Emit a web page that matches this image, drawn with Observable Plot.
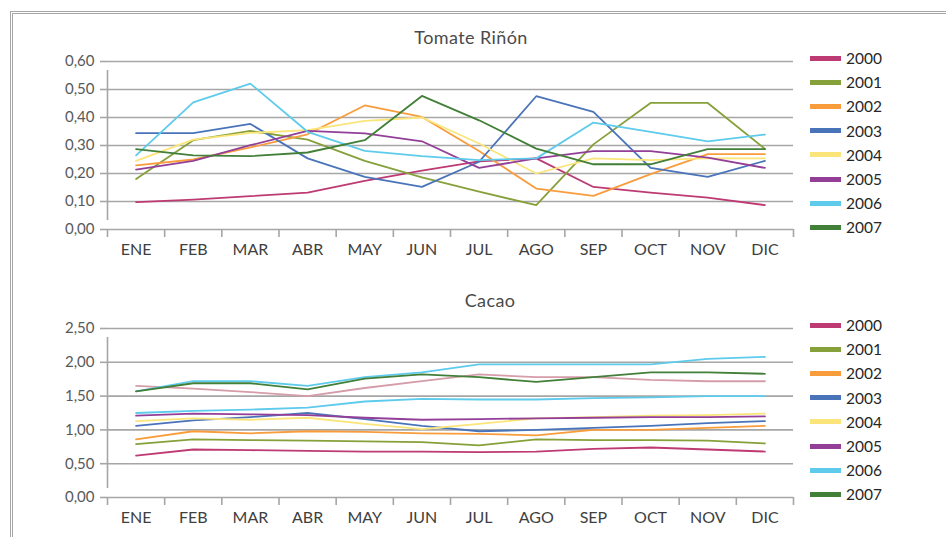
<!DOCTYPE html>
<html>
<head>
<meta charset="utf-8">
<script src="https://cdn.jsdelivr.net/npm/d3@7"></script>
<script src="https://cdn.jsdelivr.net/npm/@observablehq/plot@0.6"></script>
<style>
  html, body { margin: 0; padding: 0; background: #fff; }
  #root { position: relative; width: 946px; height: 537px; overflow: hidden; font-family: Lato, "DejaVu Sans", sans-serif; }
  .frame { position: absolute; left: 10px; top: 11px; width: 1000px; height: 600px; border: 3px double #a6a6a6; box-sizing: border-box; }
  .title { position: absolute; transform: translate(-50%, -50%); font-size: 18px; letter-spacing: 0.4px; font-weight: normal; color: #4a4a4a; white-space: nowrap; }
  .panel { position: absolute; left: 0; }
  .legend { position: absolute; left: 810px; }
  .legend .row { position: absolute; left: 0; height: 20px; display: flex; align-items: center; white-space: nowrap; }
  .legend .sw { width: 31px; height: 5px; margin-right: 5px; }
  .legend .lb { font-size: 15.5px; color: #262626; }
</style>
</head>
<body>
<div id="root"><div class="frame"></div></div>
<script>
const months = ["ENE","FEB","MAR","ABR","MAY","JUN","JUL","AGO","SEP","OCT","NOV","DIC"];
const years = ["2000","2001","2002","2003","2004","2005","2006","2007"];
const yearColors = ["#be3a72","#86a03a","#f99c3c","#4a74ba","#fbe57a","#933f98","#5ecbec","#427f38"];
const extraNames = ["2008","2009"];
const extraColors = ["#d59ca9","#5ecbec"];

// Tomate Riñón
const tomate2000 = [0.098,0.107,0.119,0.132,0.174,0.210,0.243,0.254,0.152,0.132,0.114,0.087];
const tomate2001 = [0.180,0.319,0.352,0.321,0.245,0.186,0.135,0.087,0.304,0.452,0.452,0.288];
const tomate2002 = [0.229,0.250,0.293,0.340,0.443,0.402,0.280,0.146,0.120,0.198,0.269,0.269];
const tomate2003 = [0.344,0.344,0.377,0.254,0.188,0.152,0.242,0.476,0.420,0.220,0.188,0.245];
const tomate2004 = [0.245,0.321,0.345,0.355,0.388,0.400,0.307,0.200,0.254,0.248,0.254,0.254];
const tomate2005 = [0.214,0.245,0.301,0.352,0.343,0.315,0.220,0.254,0.280,0.280,0.257,0.220];
const tomate2006 = [0.265,0.454,0.521,0.349,0.281,0.262,0.248,0.254,0.382,0.349,0.315,0.339];
const tomate2007 = [0.287,0.265,0.262,0.275,0.319,0.477,0.390,0.289,0.233,0.233,0.287,0.287];
const tomateTicks = [0,0.1,0.2,0.3,0.4,0.5,0.6];

// Cacao
const cacao2000 = [0.62,0.71,0.70,0.69,0.68,0.68,0.67,0.68,0.72,0.74,0.71,0.68];
const cacao2001 = [0.79,0.86,0.85,0.84,0.83,0.82,0.77,0.86,0.85,0.85,0.84,0.80];
const cacao2002 = [0.86,0.98,0.95,0.98,0.97,0.95,0.94,0.92,1.00,1.00,1.03,1.06];
const cacao2003 = [1.06,1.14,1.19,1.25,1.16,1.06,0.98,1.00,1.03,1.06,1.10,1.13];
const cacao2004 = [1.13,1.17,1.15,1.18,1.09,1.01,1.09,1.17,1.19,1.21,1.22,1.24];
const cacao2005 = [1.21,1.24,1.23,1.22,1.18,1.15,1.16,1.17,1.18,1.19,1.19,1.20];
const cacao2006 = [1.25,1.28,1.30,1.33,1.42,1.46,1.45,1.45,1.47,1.48,1.50,1.50];
const cacao2007 = [1.57,1.69,1.69,1.60,1.76,1.82,1.78,1.71,1.78,1.85,1.85,1.83];
const cacao2008 = [1.65,1.61,1.56,1.50,1.62,1.72,1.82,1.78,1.78,1.74,1.72,1.72];
const cacao2009 = [1.57,1.72,1.72,1.65,1.78,1.85,1.97,1.97,1.97,1.97,2.05,2.08];
const cacaoTicks = [0,0.5,1,1.5,2,2.5];

const root = document.getElementById("root");
const gridColor = "#a6a6a6";
const fmt = v => d3.format(".2f")(v).replace(".", ",");
const allNames = years.concat(extraNames);
const allColors = yearColors.concat(extraColors);

function panel(seriesList, names, ticks, opts) {
  const data = [];
  seriesList.forEach((vals, k) => vals.forEach((v, i) => data.push({i, v, name: names[k]})));
  const yMax = ticks[ticks.length - 1];
  const bounds = d3.range(13).map(i => i - 0.5);
  const svg = Plot.plot({
    width: 946, height: opts.height,
    marginLeft: 107, marginRight: 153, marginTop: opts.marginTop, marginBottom: opts.marginBottom,
    style: {fontFamily: "Lato, 'DejaVu Sans', sans-serif", background: "transparent", overflow: "visible"},
    x: {domain: [-0.5, 11.5], label: null},
    y: {domain: [0, yMax], label: null},
    color: {domain: allNames, range: allColors},
    marks: [
      Plot.ruleY(ticks, {x1: -0.5, x2: 11.5, stroke: gridColor, strokeWidth: 1.6}),
      Plot.ruleX([-0.5], {y1: 0, y2: yMax, insetTop: -9, insetBottom: -9, stroke: gridColor, strokeWidth: 1.6}),
      Plot.axisY({ticks, label: null, tickSize: 7, tickPadding: 6, tickFormat: fmt, stroke: gridColor, strokeWidth: 1.6, fill: "#595959", fontSize: 15}),
      Plot.axisX({ticks: bounds, label: null, tickSize: 8, tickFormat: () => "", stroke: gridColor, strokeWidth: 1.6}),
      Plot.axisX({ticks: d3.range(12), label: null, tickSize: 0, tickPadding: opts.pad, tickFormat: i => months[i], fill: "#404040", fontSize: 16}),
      Plot.line(data, {x: "i", y: "v", z: "name", stroke: "name", strokeWidth: 1.8})
    ]
  });
  svg.classList.add("panel");
  svg.style.top = opts.top + "px";
  root.appendChild(svg);

  const t = document.createElement("div");
  t.className = "title";
  t.textContent = opts.title;
  t.style.left = opts.titleX + "px";
  t.style.top = opts.titleY + "px";
  root.appendChild(t);

  const lg = document.createElement("div");
  lg.className = "legend";
  lg.style.top = opts.legendTop + "px";
  years.forEach((y, k) => {
    const row = document.createElement("div");
    row.className = "row";
    row.style.top = (k * 24.2) + "px";
    row.innerHTML = `<div class="sw" style="background:${yearColors[k]}"></div><span class="lb">${y}</span>`;
    lg.appendChild(row);
  });
  root.appendChild(lg);
}

panel([tomate2000,tomate2001,tomate2002,tomate2003,tomate2004,tomate2005,tomate2006,tomate2007],
  years, tomateTicks,
  {height: 250, top: 20, marginTop: 41, marginBottom: 41, pad: 14, title: "Tomate Riñón", titleX: 471, titleY: 37, legendTop: 48});

panel([cacao2008,cacao2009,cacao2000,cacao2001,cacao2002,cacao2003,cacao2004,cacao2005,cacao2006,cacao2007],
  ["2008","2009"].concat(years), cacaoTicks,
  {height: 252, top: 285, marginTop: 43, marginBottom: 40, pad: 14, title: "Cacao", titleX: 490, titleY: 300, legendTop: 315});
</script>
</body>
</html>
